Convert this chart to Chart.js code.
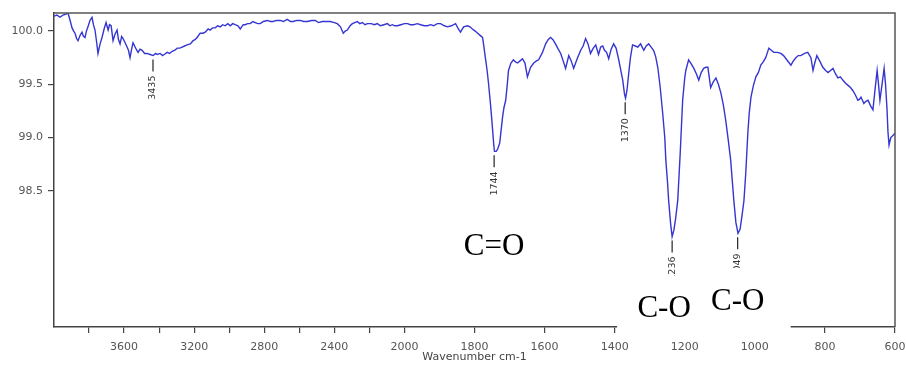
<!DOCTYPE html>
<html>
<head>
<meta charset="utf-8">
<script src="https://cdn.jsdelivr.net/npm/chart.js@4.4.1/dist/chart.umd.min.js"></script>
<style>
  html, body { margin: 0; padding: 0; background: #fff; }
  #wrap { width: 906px; height: 373px; position: relative; }
</style>
</head>
<body>
<div id="wrap"><canvas id="ir"></canvas></div>
<script>
const wavenumbers = [
  4000, 3983, 3966, 3949, 3931, 3920, 3908, 3897, 3888, 3880, 3871, 3863, 3851, 3840, 3832, 3823,
  3815, 3806, 3795, 3783, 3775, 3766, 3757, 3749, 3737, 3726, 3714, 3703, 3691, 3683, 3674, 3663,
  3652, 3640, 3632, 3623, 3614, 3606, 3594, 3583, 3575, 3566, 3557, 3549, 3537, 3528, 3520, 3509,
  3497, 3483, 3469, 3451, 3434, 3420, 3411, 3394, 3380, 3371, 3354, 3340, 3326, 3310, 3297, 3282,
  3269, 3255, 3240, 3222, 3206, 3195, 3183, 3166, 3150, 3137, 3120, 3109, 3095, 3080, 3066, 3051,
  3037, 3023, 3008, 2994, 2980, 2966, 2950, 2937, 2920, 2909, 2895, 2880, 2865, 2851, 2837, 2823,
  2805, 2783, 2765, 2749, 2730, 2709, 2690, 2669, 2650, 2634, 2615, 2594, 2575, 2554, 2530, 2509,
  2490, 2469, 2445, 2423, 2400, 2383, 2365, 2349, 2338, 2326, 2310, 2297, 2283, 2269, 2255, 2240,
  2225, 2211, 2190, 2171, 2155, 2137, 2117, 2097, 2083, 2069, 2055, 2040, 2020, 2000, 1991, 1983,
  1974, 1963, 1954, 1943, 1934, 1925, 1917, 1906, 1897, 1886, 1877, 1866, 1854, 1846, 1840, 1831,
  1820, 1813, 1806, 1798, 1791, 1784, 1777, 1773, 1769, 1764, 1760, 1754, 1749, 1745, 1743, 1738,
  1734, 1728, 1720, 1716, 1711, 1707, 1703, 1696, 1689, 1683, 1677, 1670, 1663, 1656, 1649, 1640,
  1631, 1623, 1617, 1606, 1597, 1590, 1583, 1576, 1569, 1561, 1554, 1547, 1540, 1531, 1524, 1517,
  1507, 1497, 1490, 1483, 1476, 1469, 1461, 1454, 1446, 1440, 1434, 1429, 1423, 1417, 1410, 1403,
  1396, 1389, 1383, 1377, 1372, 1369, 1365, 1360, 1355, 1349, 1341, 1334, 1326, 1317, 1310, 1303,
  1296, 1289, 1283, 1277, 1270, 1263, 1257, 1254, 1249, 1246, 1240, 1236, 1231, 1226, 1220, 1213,
  1206, 1200, 1197, 1189, 1181, 1174, 1167, 1160, 1153, 1146, 1140, 1134, 1126, 1119, 1111, 1104,
  1097, 1090, 1083, 1076, 1069, 1060, 1054, 1048, 1042, 1036, 1031, 1026, 1020, 1016, 1011, 1004,
  997, 990, 983, 976, 969, 960, 953, 946, 936, 926, 918, 911, 904, 897, 890, 883,
  876, 869, 858, 849, 840, 834, 829, 823, 815, 806, 798, 791, 784, 777, 770, 763,
  756, 749, 741, 734, 727, 720, 713, 706, 701, 697, 693, 689, 683, 677, 670, 663,
  657, 651, 647, 643, 637, 631, 627, 623, 620, 617, 612, 606, 600
];
const transmittance = [
  100.14, 100.15, 100.13, 100.15, 100.16, 100.17, 100.10, 100.03, 100.00, 99.98, 99.93, 99.91, 99.96, 99.99, 99.95, 99.94,
  100.00, 100.04, 100.10, 100.13, 100.06, 100.01, 99.90, 99.79, 99.88, 99.94, 100.02, 100.08, 100.01, 100.06, 100.05, 99.91,
  99.97, 100.01, 99.92, 99.88, 99.95, 99.93, 99.89, 99.85, 99.82, 99.75, 99.83, 99.89, 99.85, 99.82, 99.80, 99.83,
  99.82, 99.79, 99.79, 99.78, 99.77, 99.79, 99.78, 99.79, 99.77, 99.78, 99.80, 99.79, 99.81, 99.82, 99.84, 99.84,
  99.85, 99.86, 99.87, 99.88, 99.91, 99.92, 99.94, 99.98, 99.98, 99.99, 100.02, 100.01, 100.03, 100.03, 100.05, 100.04,
  100.06, 100.05, 100.07, 100.05, 100.07, 100.06, 100.05, 100.02, 100.06, 100.06, 100.07, 100.07, 100.09, 100.08, 100.07, 100.07,
  100.09, 100.10, 100.09, 100.09, 100.10, 100.10, 100.09, 100.11, 100.09, 100.09, 100.10, 100.10, 100.09, 100.09, 100.10, 100.10,
  100.08, 100.09, 100.09, 100.09, 100.08, 100.07, 100.04, 99.98, 100.00, 100.01, 100.05, 100.07, 100.08, 100.09, 100.07, 100.08,
  100.06, 100.07, 100.07, 100.06, 100.07, 100.05, 100.06, 100.07, 100.05, 100.06, 100.05, 100.05, 100.06, 100.07, 100.07, 100.06,
  100.06, 100.07, 100.06, 100.05, 100.05, 100.06, 100.05, 100.07, 100.07, 100.05, 100.04, 100.05, 100.07, 100.02, 99.99, 100.04,
  100.05, 100.04, 100.02, 100.00, 99.98, 99.96, 99.94, 99.85, 99.75, 99.63, 99.51, 99.30, 99.10, 98.93, 98.87, 98.87,
  98.89, 98.95, 99.19, 99.28, 99.35, 99.48, 99.63, 99.70, 99.73, 99.71, 99.70, 99.72, 99.74, 99.70, 99.57, 99.66,
  99.70, 99.72, 99.73, 99.80, 99.88, 99.92, 99.94, 99.92, 99.88, 99.83, 99.79, 99.72, 99.65, 99.77, 99.72, 99.65,
  99.74, 99.82, 99.86, 99.93, 99.88, 99.79, 99.84, 99.87, 99.78, 99.85, 99.86, 99.82, 99.80, 99.74, 99.83, 99.88,
  99.84, 99.74, 99.64, 99.54, 99.41, 99.37, 99.44, 99.60, 99.75, 99.87, 99.86, 99.85, 99.88, 99.82, 99.86, 99.88,
  99.85, 99.82, 99.76, 99.66, 99.47, 99.23, 99.00, 98.79, 98.57, 98.41, 98.18, 98.07, 98.13, 98.24, 98.41, 98.85,
  99.35, 99.56, 99.63, 99.73, 99.69, 99.65, 99.60, 99.54, 99.61, 99.65, 99.66, 99.66, 99.47, 99.52, 99.56, 99.50,
  99.42, 99.31, 99.16, 98.98, 98.79, 98.41, 98.20, 98.10, 98.14, 98.28, 98.41, 98.66, 99.04, 99.23, 99.38, 99.49,
  99.57, 99.61, 99.68, 99.71, 99.75, 99.84, 99.82, 99.80, 99.80, 99.79, 99.77, 99.74, 99.71, 99.68, 99.72, 99.75,
  99.77, 99.77, 99.79, 99.80, 99.75, 99.63, 99.70, 99.77, 99.72, 99.66, 99.63, 99.61, 99.63, 99.65, 99.60, 99.56,
  99.57, 99.54, 99.51, 99.49, 99.47, 99.44, 99.40, 99.35, 99.36, 99.38, 99.35, 99.32, 99.34, 99.35, 99.30, 99.26,
  99.45, 99.63, 99.50, 99.35, 99.50, 99.65, 99.50, 99.28, 99.05, 98.93, 99.00, 99.02, 99.04
];
const labelledTicks = [3600, 3200, 2800, 2400, 2000, 1800, 1600, 1400, 1200, 1000, 800, 600];
const minorTicks = [3800, 3400, 3000, 2600, 2200];
const yTicks = [98.5, 99.0, 99.5, 100.0];
const peakNumbers = [3435, 1744, 1370, 1236, 1049];
const peakDepths = [99.77, 98.87, 99.37, 98.07, 98.10];
const bandNames = ['C=O', 'C-O', 'C-O'];
const bandNumbers = [1744, 1236, 1049];

// the instrument plots 4000-2000 at half the scale of 2000-600
function toAxis(w) { return w >= 2000 ? 4000 - w : 2000 + (2000 - w) * 2; }
function fromAxis(u) { return u <= 2000 ? 4000 - u : 2000 - (u - 2000) / 2; }

const axisFont = { family: 'DejaVu Sans', size: 11 };

const extras = {
  id: 'extras',
  afterDraw(chart) {
    const { ctx, chartArea: a, scales: { x, y } } = chart;
    ctx.save();

    // top and right frame
    ctx.strokeStyle = '#555';
    ctx.lineWidth = 1.5;
    ctx.beginPath();
    ctx.moveTo(a.left, a.top);
    ctx.lineTo(a.right, a.top);
    ctx.lineTo(a.right, a.bottom);
    ctx.stroke();

    // peak markers
    ctx.font = '9.5px "DejaVu Sans"';
    ctx.fillStyle = '#333';
    ctx.strokeStyle = '#222';
    ctx.lineWidth = 1.2;
    peakNumbers.forEach((w, i) => {
      const px = x.getPixelForValue(toAxis(w));
      const py = y.getPixelForValue(peakDepths[i]);
      ctx.beginPath();
      ctx.moveTo(px, py + 4);
      ctx.lineTo(px, py + 16);
      ctx.stroke();
      ctx.save();
      ctx.translate(px, py + 20);
      ctx.rotate(-Math.PI / 2);
      ctx.textAlign = 'right';
      ctx.textBaseline = 'middle';
      ctx.fillText(String(w), 0, 0);
      ctx.restore();
    });

    // pasted-over boxes behind the C-O labels
    const x1 = x.getPixelForValue(toAxis(bandNumbers[1]));
    const x2 = x.getPixelForValue(toAxis(bandNumbers[2]));
    ctx.fillStyle = '#fff';
    ctx.fillRect(x1 - 55, 276, 90, a.bottom + 7 - 276);
    ctx.fillRect(x2 - 38, 268, 91, a.bottom + 7 - 268);

    // band assignments
    ctx.fillStyle = '#000';
    ctx.font = '31px "Liberation Serif"';
    ctx.textAlign = 'center';
    ctx.textBaseline = 'alphabetic';
    const offsets = [[0, 255], [-8, 317], [0, 310]];
    bandNames.forEach((name, i) => {
      const px = x.getPixelForValue(toAxis(bandNumbers[i]));
      ctx.fillText(name, px + offsets[i][0], offsets[i][1]);
    });
    ctx.restore();
  }
};

new Chart(document.getElementById('ir'), {
  type: 'line',
  data: {
    datasets: [{
      data: wavenumbers.map((w, i) => ({ x: toAxis(w), y: transmittance[i] })),
      borderColor: '#3535d2',
      borderWidth: 1.4,
      pointRadius: 0,
      tension: 0
    }]
  },
  options: {
    responsive: true,
    maintainAspectRatio: false,
    animation: false,
    layout: { padding: { top: 13, right: 11, left: 0, bottom: 0 } },
    plugins: { legend: { display: false }, tooltip: { enabled: false } },
    scales: {
      x: {
        type: 'linear',
        min: 0,
        max: 4800,
        afterBuildTicks: s => {
          s.ticks = [...minorTicks, ...labelledTicks]
            .map(w => ({ value: toAxis(w) }))
            .sort((p, q) => p.value - q.value);
        },
        afterFit: s => {
          s.height = 46;
          s.paddingLeft = 0;
          s.paddingRight = 0;
        },
        grid: { drawOnChartArea: false, tickLength: 6, color: '#444', lineWidth: 1.2 },
        border: { color: '#444', width: 1.5 },
        ticks: {
          autoSkip: false,
          maxRotation: 0,
          padding: 8,
          color: '#555',
          font: axisFont,
          callback: v => {
            const w = Math.round(fromAxis(v));
            return labelledTicks.includes(w) ? String(w) : '';
          }
        },
        title: {
          display: true,
          text: 'Wavenumber cm-1',
          color: '#444',
          font: axisFont,
          padding: { top: 0, bottom: 9 }
        }
      },
      y: {
        min: 97.22,
        max: 100.17,
        afterBuildTicks: s => { s.ticks = yTicks.map(v => ({ value: v })); },
        afterFit: s => {
          s.width = 54;
          s.paddingTop = 0;
          s.paddingBottom = 0;
        },
        grid: { drawOnChartArea: false, tickLength: 6, color: '#444', lineWidth: 1.2 },
        border: { color: '#444', width: 1.5 },
        ticks: {
          padding: 5,
          color: '#555',
          font: axisFont,
          callback: v => v.toFixed(1)
        }
      }
    }
  },
  plugins: [extras]
});
</script>
</body>
</html>
